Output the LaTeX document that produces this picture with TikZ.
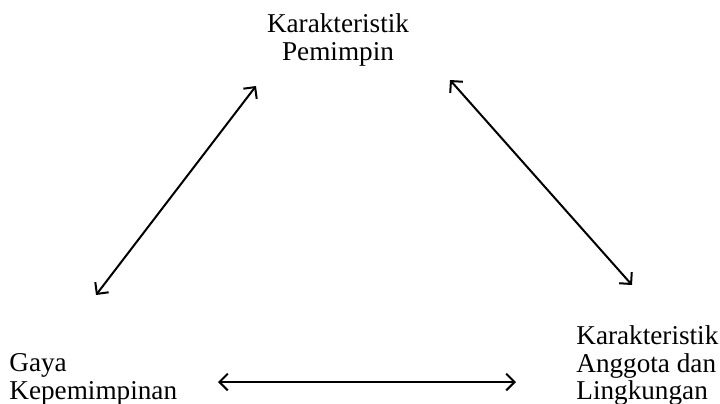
\documentclass[tikz,border=0pt]{standalone}
\usepackage{fontspec}
\setmainfont{Liberation Serif}
\usetikzlibrary{arrows.meta}

\begin{document}
\begin{tikzpicture}[
  x=0.5pt, y=-0.5pt,
  lbl/.style={inner sep=0pt, font=\fontsize{13.6}{13.9}\selectfont},
  arr/.style={{Straight Barb[length=4.2pt,width=8.4pt]}-{Straight Barb[length=4.2pt,width=8.4pt]}, line width=1pt, black}
]
\useasboundingbox (0,0) rectangle (720,403);
% Nodes
\node[lbl, align=center, anchor=north](pem) at (338,13){Karakteristik\\Pemimpin};
\node[lbl, align=left, anchor=north west](gaya) at (9,353){Gaya\\Kepemimpinan};
\node[lbl, align=left, anchor=north west](ang) at (576,325){Karakteristik\\Anggota dan\\Lingkungan};
% Arrow ends
\coordinate (gp) at (96,295);
\coordinate (pg) at (256,86);
\coordinate (pa) at (450,80);
\coordinate (ap) at (632,285);
\coordinate (ga) at (218,382);
\coordinate (ag) at (516,382);
% Arrows
\draw[arr](gp)--(pg);
\draw[arr](pa)--(ap);
\draw[arr](ga)--(ag);
\end{tikzpicture}
\end{document}
